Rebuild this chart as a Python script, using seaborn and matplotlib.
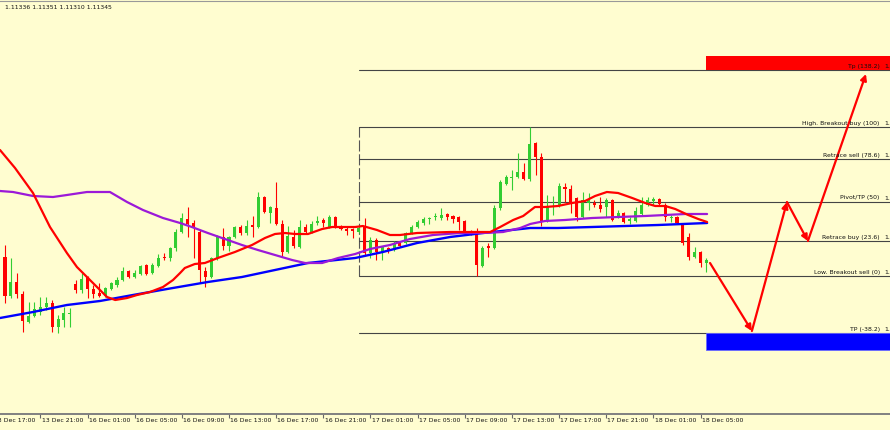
import numpy as np
import pandas as pd
import seaborn as sns
import matplotlib
matplotlib.use('Agg')
from matplotlib import pyplot as plt
from matplotlib import patches, transforms

bg = '#FFFDD0'
bull = '#32CD32'
bear = '#FF0000'

# EURUSD M30, 13 Dec 18:00 .. 18 Dec 05:30
opens = [1.11354, 1.11237, 1.11279, 1.11243, 1.11159, 1.11177, 1.11189, 1.11204, 1.11216, 1.11144,
         1.11165, 1.11183, 1.11273, 1.11255, 1.11294, 1.11258, 1.11246, 1.11237, 1.11258, 1.11270,
         1.11285, 1.11312, 1.11294, 1.11303, 1.11330, 1.11306, 1.11327, 1.11354, 1.11351, 1.11381,
         1.11429, 1.11468, 1.11456, 1.11429, 1.11312, 1.11294, 1.11351, 1.11414, 1.11387, 1.11414,
         1.11444, 1.11426, 1.11450, 1.11444, 1.11534, 1.11486, 1.11501, 1.11453, 1.11369, 1.11414,
         1.11384, 1.11444, 1.11429, 1.11456, 1.11465, 1.11444, 1.11474, 1.11444, 1.11438, 1.11438,
         1.11429, 1.11444, 1.11366, 1.11405, 1.11369, 1.11381, 1.11375, 1.11396, 1.11396, 1.11426,
         1.11444, 1.11456, 1.11468, 1.11473, 1.11471, 1.11483, 1.11477, 1.11474, 1.11462, 1.11432,
         1.11429, 1.11327, 1.11387, 1.11381, 1.11501, 1.11573, 1.11591, 1.11594, 1.11609, 1.11588,
         1.11696, 1.11654, 1.11462, 1.11504, 1.11507, 1.11564, 1.11558, 1.11531, 1.11474, 1.11516,
         1.11516, 1.11510, 1.11504, 1.11525, 1.11474, 1.11486, 1.11462, 1.11462, 1.11483, 1.11510,
         1.11522, 1.11528, 1.11510, 1.11471, 1.11474, 1.11450, 1.11414, 1.11354, 1.11369, 1.11336]
highs = [1.11390, 1.11351, 1.11306, 1.11252, 1.11219, 1.11219, 1.11234, 1.11234, 1.11225, 1.11180,
         1.11204, 1.11201, 1.11285, 1.11306, 1.11297, 1.11270, 1.11276, 1.11264, 1.11279, 1.11294,
         1.11324, 1.11315, 1.11315, 1.11330, 1.11333, 1.11336, 1.11363, 1.11366, 1.11384, 1.11438,
         1.11486, 1.11504, 1.11465, 1.11435, 1.11324, 1.11354, 1.11420, 1.11441, 1.11417, 1.11447,
         1.11450, 1.11465, 1.11477, 1.11549, 1.11537, 1.11507, 1.11579, 1.11465, 1.11447, 1.11435,
         1.11465, 1.11453, 1.11462, 1.11477, 1.11471, 1.11480, 1.11477, 1.11450, 1.11444, 1.11441,
         1.11450, 1.11471, 1.11414, 1.11411, 1.11387, 1.11384, 1.11402, 1.11402, 1.11429, 1.11450,
         1.11465, 1.11474, 1.11474, 1.11486, 1.11501, 1.11486, 1.11480, 1.11477, 1.11465, 1.11435,
         1.11441, 1.11387, 1.11396, 1.11510, 1.11585, 1.11600, 1.11615, 1.11666, 1.11636, 1.11744,
         1.11699, 1.11666, 1.11540, 1.11537, 1.11576, 1.11576, 1.11570, 1.11534, 1.11549, 1.11546,
         1.11525, 1.11534, 1.11531, 1.11528, 1.11495, 1.11489, 1.11474, 1.11504, 1.11534, 1.11534,
         1.11534, 1.11531, 1.11516, 1.11480, 1.11477, 1.11453, 1.11426, 1.11384, 1.11372, 1.11351]
lows = [1.11216, 1.11231, 1.11231, 1.11129, 1.11156, 1.11174, 1.11180, 1.11195, 1.11129, 1.11126,
        1.11144, 1.11144, 1.11246, 1.11246, 1.11231, 1.11231, 1.11234, 1.11234, 1.11255, 1.11264,
        1.11282, 1.11291, 1.11291, 1.11300, 1.11300, 1.11303, 1.11324, 1.11345, 1.11342, 1.11372,
        1.11426, 1.11414, 1.11351, 1.11276, 1.11264, 1.11291, 1.11345, 1.11375, 1.11372, 1.11411,
        1.11420, 1.11420, 1.11414, 1.11441, 1.11486, 1.11456, 1.11450, 1.11357, 1.11366, 1.11381,
        1.11381, 1.11426, 1.11426, 1.11450, 1.11444, 1.11441, 1.11441, 1.11435, 1.11420, 1.11411,
        1.11426, 1.11360, 1.11351, 1.11345, 1.11345, 1.11366, 1.11372, 1.11384, 1.11393, 1.11423,
        1.11441, 1.11450, 1.11453, 1.11465, 1.11465, 1.11465, 1.11456, 1.11435, 1.11426, 1.11420,
        1.11297, 1.11324, 1.11354, 1.11378, 1.11495, 1.11570, 1.11555, 1.11591, 1.11585, 1.11582,
        1.11600, 1.11447, 1.11459, 1.11480, 1.11504, 1.11519, 1.11486, 1.11462, 1.11471, 1.11495,
        1.11504, 1.11489, 1.11474, 1.11462, 1.11471, 1.11456, 1.11453, 1.11459, 1.11480, 1.11507,
        1.11510, 1.11510, 1.11462, 1.11459, 1.11453, 1.11390, 1.11345, 1.11351, 1.11324, 1.11310]
closes = [1.11237, 1.11279, 1.11243, 1.11162, 1.11177, 1.11198, 1.11204, 1.11216, 1.11144, 1.11168,
          1.11186, 1.11186, 1.11255, 1.11288, 1.11258, 1.11243, 1.11237, 1.11261, 1.11276, 1.11285,
          1.11312, 1.11294, 1.11306, 1.11327, 1.11303, 1.11330, 1.11351, 1.11351, 1.11381, 1.11429,
          1.11471, 1.11453, 1.11444, 1.11315, 1.11294, 1.11351, 1.11414, 1.11387, 1.11414, 1.11444,
          1.11426, 1.11447, 1.11444, 1.11534, 1.11489, 1.11504, 1.11453, 1.11369, 1.11417, 1.11387,
          1.11444, 1.11429, 1.11453, 1.11462, 1.11456, 1.11474, 1.11444, 1.11438, 1.11432, 1.11432,
          1.11441, 1.11366, 1.11405, 1.11369, 1.11384, 1.11372, 1.11396, 1.11387, 1.11426, 1.11444,
          1.11459, 1.11468, 1.11471, 1.11474, 1.11480, 1.11474, 1.11468, 1.11459, 1.11429, 1.11429,
          1.11330, 1.11381, 1.11381, 1.11501, 1.11579, 1.11594, 1.11594, 1.11609, 1.11588, 1.11693,
          1.11654, 1.11459, 1.11504, 1.11507, 1.11567, 1.11558, 1.11516, 1.11474, 1.11525, 1.11525,
          1.11510, 1.11498, 1.11525, 1.11465, 1.11486, 1.11459, 1.11468, 1.11492, 1.11510, 1.11525,
          1.11528, 1.11513, 1.11474, 1.11474, 1.11456, 1.11396, 1.11354, 1.11369, 1.11336, 1.11345]

# moving averages at (bar, price)
red_ma_bar = [-0.85, 1.7, 4.75, 7.63, 10.5, 12.2, 13.9, 15.6, 17.3, 18.7, 20.7, 22.4, 24.6, 26.8,
              28.5, 29.7, 30.5, 32.2, 33.9, 36.1, 39.0, 41.9, 44.1, 45.8, 47.5, 49.2, 51.4, 53.8,
              55.5, 59.4, 60.7, 63.1, 65.3, 67.0, 69.9, 75.5, 82.3, 84.0, 86.2, 87.9, 89.9, 91.6,
              93.8, 96.2, 98.4, 100.1, 102.1, 104.0, 106.4, 108.6, 110.3, 112.0, 113.7, 115.9, 117.6, 119.1]
red_ma = [1.11675, 1.11621, 1.11546, 1.11444, 1.11366, 1.11324, 1.11294, 1.11264, 1.11234, 1.11225,
          1.11231, 1.11240, 1.11249, 1.11264, 1.11285, 1.11306, 1.11321, 1.11333, 1.11336, 1.11351,
          1.11369, 1.11390, 1.11411, 1.11423, 1.11426, 1.11423, 1.11423, 1.11438, 1.11444, 1.11444,
          1.11447, 1.11435, 1.11420, 1.11420, 1.11426, 1.11429, 1.11429, 1.11444, 1.11465, 1.11477,
          1.11504, 1.11504, 1.11507, 1.11516, 1.11522, 1.11537, 1.11549, 1.11546, 1.11531, 1.11516,
          1.11507, 1.11507, 1.11498, 1.11480, 1.11468, 1.11459]
purple_ma_bar = [-0.85, 1.36, 4.75, 8.14, 10.5, 13.9, 17.8, 20.7, 23.4, 26.8, 29.7, 31.7, 34.4, 37.3,
                 40.2, 42.9, 45.8, 48.7, 50.9, 53.8, 56.5, 59.4, 61.9, 65.3, 68.7, 72.6, 77.2, 81.1,
                 84.5, 87.4, 89.1, 89.9, 91.6, 95.0, 99.6, 104.0, 108.6, 112.0, 115.4, 119.1]
purple_ma = [1.11552, 1.11549, 1.11537, 1.11534, 1.11540, 1.11549, 1.11549, 1.11519, 1.11495, 1.11471,
             1.11456, 1.11444, 1.11426, 1.11408, 1.11390, 1.11375, 1.11360, 1.11345, 1.11336, 1.11336,
             1.11351, 1.11363, 1.11378, 1.11390, 1.11408, 1.11420, 1.11426, 1.11426, 1.11429, 1.11441,
             1.11453, 1.11456, 1.11462, 1.11465, 1.11471, 1.11474, 1.11477, 1.11480, 1.11483, 1.11483]
blue_ma_bar = [-0.85, 4.75, 10.5, 16.1, 21.7, 27.5, 34.4, 40.2, 45.8, 51.4, 59.4, 64.1, 69.9, 75.5,
               81.1, 89.1, 93.8, 99.6, 105.2, 110.8, 119.1]
blue_ma = [1.11171, 1.11189, 1.11210, 1.11222, 1.11240, 1.11258, 1.11279, 1.11294, 1.11315, 1.11336,
           1.11351, 1.11369, 1.11396, 1.11414, 1.11426, 1.11441, 1.11441, 1.11444, 1.11447, 1.11450,
           1.11456]

tick_bars = [-2, 6, 14, 22, 30, 38, 46, 54, 62, 70, 78, 86, 94, 102, 110, 118]
tick_labels = ['13 Dec 17:00', '13 Dec 21:00', '16 Dec 01:00', '16 Dec 05:00', '16 Dec 09:00',
               '16 Dec 13:00', '16 Dec 17:00', '16 Dec 21:00', '17 Dec 01:00', '17 Dec 05:00',
               '17 Dec 09:00', '17 Dec 13:00', '17 Dec 17:00', '17 Dec 21:00', '18 Dec 01:00',
               '18 Dec 05:00']

# fibonacci tool
fib_bar = 60
fib_low = 1.11297
fib_high = 1.11744
fib_ratios = [138.2, 100, 78.6, 50, 23.6, 0, -38.2]
fib_names = ['Tp (138.2)', 'High. Breakout buy (100)', 'Retrace sell (78.6)', 'Pivot/TP (50)',
             'Retrace buy (23.6)', 'Low. Breakout sell (0)', 'TP (-38.2)']

# target boxes and projected path
box_bar = 118.9
red_box = (1.11915, 1.11957)
blue_box = (1.11075, 1.11126)
path_bars = [119.6, 126.7, 132.65, 136.2, 146.05]
path_prices = [1.11336, 1.11132, 1.11519, 1.11402, 1.11903]

header = '1.11336 1.11351 1.11310 1.11345'

sns.set_style('white', {'axes.facecolor': bg, 'figure.facecolor': bg})
plt.rcParams['font.family'] = ['DejaVu Sans']

fig = plt.figure(figsize=(8.9, 4.3), dpi=100)
ax = fig.add_axes([0, 16 / 430, 1, 413 / 430])
ax.set_facecolor(bg)

df = pd.DataFrame({'open': opens, 'high': highs, 'low': lows, 'close': closes})
df['bar'] = np.arange(len(df))
cols = np.where(df['close'] >= df['open'], bull, bear)
ax.vlines(df['bar'], df['low'], df['high'], colors=cols, lw=0.8, zorder=2)
body = np.maximum((df['close'] - df['open']).abs(), 0.00003)
ax.bar(df['bar'], body, bottom=np.minimum(df['open'], df['close']), width=0.52,
       color=cols, linewidth=0, zorder=3)

sns.lineplot(x=blue_ma_bar, y=blue_ma, ax=ax, color='#0000FF', lw=1.7, zorder=4)
sns.lineplot(x=purple_ma_bar, y=purple_ma, ax=ax, color='#9B19D8', lw=1.6, zorder=4)
sns.lineplot(x=red_ma_bar, y=red_ma, ax=ax, color='#FF0000', lw=1.6, zorder=5)

# fib levels
ax.plot([fib_bar, fib_bar], [fib_low, fib_high], color='#555555', lw=0.8,
        dashes=(10, 2.5), zorder=1)
for r, name in zip(fib_ratios, fib_names):
    lvl = fib_low + (fib_high - fib_low) * r / 100
    ax.plot([fib_bar, 152], [lvl, lvl], color='#444444', lw=0.8, zorder=1)
    ax.text(148.4, lvl + 0.00003, name, ha='right', va='bottom', fontsize=4.4,
            color='#111111', zorder=7)
    ax.text(149.2, lvl + 0.00003, f'{lvl:.5f}', ha='left', va='bottom', fontsize=4.4,
            color='#111111', zorder=7)

ax.add_patch(patches.Rectangle((box_bar, red_box[0]), 40, red_box[1] - red_box[0],
                               facecolor='#FF0000', edgecolor='none', zorder=2))
ax.add_patch(patches.Rectangle((box_bar, blue_box[0]), 40, blue_box[1] - blue_box[0],
                               facecolor='#0000FF', edgecolor='#6A6AFF', lw=0.6, zorder=2))

for k in range(len(path_bars) - 1):
    ax.annotate('', xy=(path_bars[k + 1], path_prices[k + 1]),
                xytext=(path_bars[k], path_prices[k]),
                arrowprops=dict(arrowstyle='-|>', color='#FF0000', lw=1.6,
                                mutation_scale=9, shrinkA=0, shrinkB=0), zorder=6)

ax.set_xlim(-0.85, 150.13)
ax.set_ylim(1.10883, 1.12122)
ax.set_yticks([])
ax.set_xticks(tick_bars[1:])
ax.set_xticklabels([])
ax.tick_params(axis='x', direction='out', length=3, width=0.8, color='#666666', bottom=True)
trans = transforms.blended_transform_factory(ax.transData, ax.transAxes)
for b, lab in zip(tick_bars, tick_labels):
    ax.text(b + 0.2, -0.009, lab, transform=trans, ha='left', va='top', fontsize=4.4,
            color='#111111', clip_on=False)

for s in ['left', 'right']:
    ax.spines[s].set_visible(False)
ax.spines['bottom'].set_color('#808080')
ax.spines['bottom'].set_linewidth(1.4)
ax.spines['top'].set_color('#999999')
ax.spines['top'].set_linewidth(0.8)

ax.text(0.006, 0.985, header, transform=ax.transAxes, ha='left', va='center',
        fontsize=4.4, color='#111111')

plt.savefig('out.png', dpi=100, facecolor=bg)
